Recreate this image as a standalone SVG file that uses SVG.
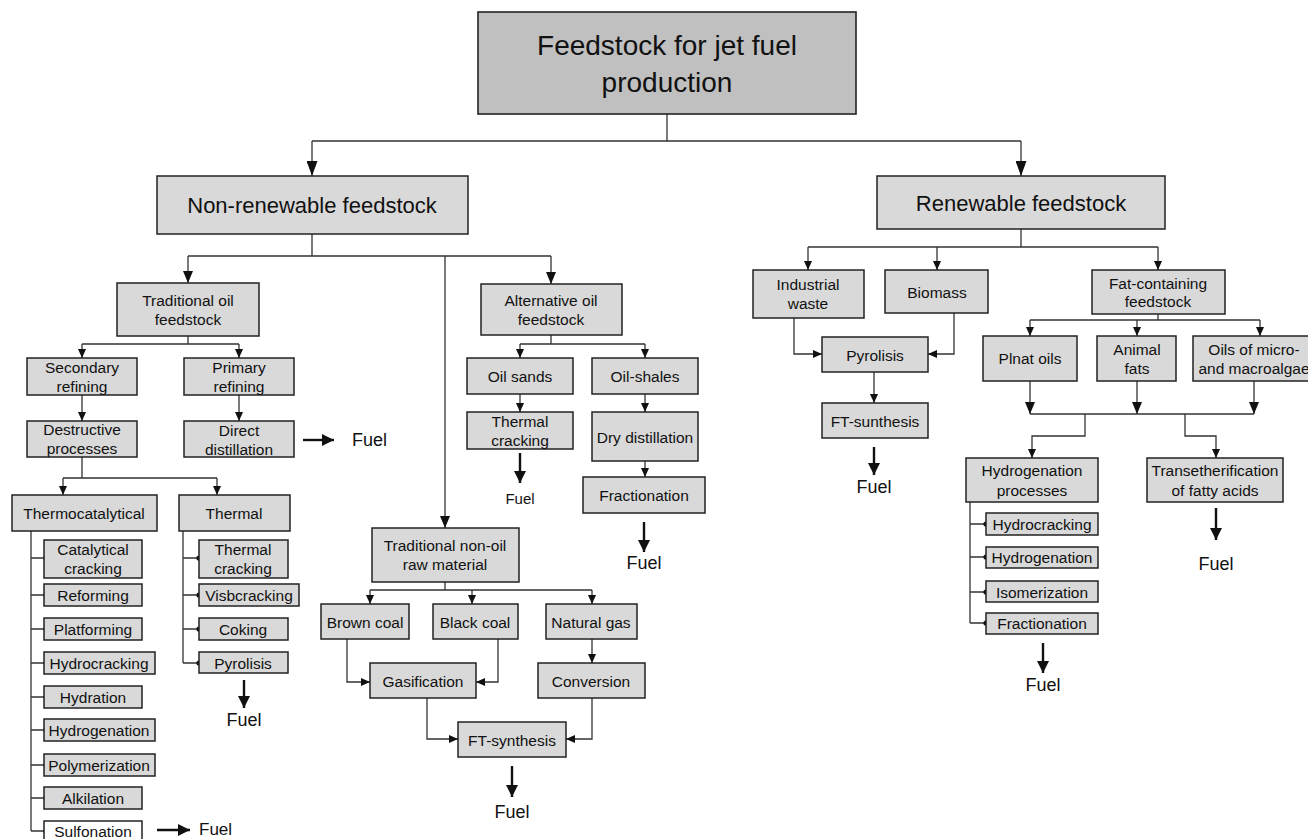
<svg xmlns="http://www.w3.org/2000/svg" width="1308" height="839" viewBox="0 0 1308 839">
  <style>
    .box { fill: #d9d9d9; stroke: #222; stroke-width: 1.5; }
    .root { fill: #c0c0c0; stroke: #222; stroke-width: 1.6; }
    .white { fill: #ffffff; stroke: #222; stroke-width: 1.5; }
    text { font-family: "Liberation Sans", Arial, sans-serif; fill: #111; text-anchor: middle; dominant-baseline: central; }
    .t28 { font-size: 28px; }
    .t22 { font-size: 22px; }
    .t15 { font-size: 15.5px; }
    .f18 { font-size: 18px; }
    .f17 { font-size: 17px; }
    .f15 { font-size: 15px; }
    .left { text-anchor: start; }
    .ln { fill: none; stroke: #333; stroke-width: 1.3; }
    .fuel { fill: none; stroke: #111; stroke-width: 2.4; }
    .dot { fill: #111; }
  </style>
  <defs>
    <marker id="big" markerUnits="userSpaceOnUse" markerWidth="15" markerHeight="11" refX="15" refY="5.5" orient="auto">
      <path d="M0 0 L15 5.5 L0 11 Z" fill="#111"/>
    </marker>
    <marker id="mid" markerUnits="userSpaceOnUse" markerWidth="12" markerHeight="10" refX="12" refY="5" orient="auto">
      <path d="M0 0 L12 5 L0 10 Z" fill="#111"/>
    </marker>
    <marker id="sm" markerUnits="userSpaceOnUse" markerWidth="9" markerHeight="8" refX="9" refY="4" orient="auto">
      <path d="M0 0 L9 4 L0 8 Z" fill="#111"/>
    </marker>
    <marker id="fa" markerUnits="userSpaceOnUse" markerWidth="12" markerHeight="12" refX="12" refY="6" orient="auto">
      <path d="M0 0 L12 6 L0 12 Z" fill="#111"/>
    </marker>
  </defs>

  <!-- connectors -->
  <g id="connectors">
    <path class="ln" d="M667 114 V141 M312 141 H1021"/>
    <path class="ln" d="M312 141 V176" marker-end="url(#big)"/>
    <path class="ln" d="M1021 141 V176" marker-end="url(#big)"/>

    <!-- non-renewable branch -->
    <path class="ln" d="M312 234 V256 M188 256 H551"/>
    <path class="ln" d="M188 256 V283" marker-end="url(#mid)"/>
    <path class="ln" d="M445 256 V528" marker-end="url(#mid)"/>
    <path class="ln" d="M551 256 V284" marker-end="url(#mid)"/>

    <path class="ln" d="M188 336 V344 M82 344 H239"/>
    <path class="ln" d="M82 344 V358" marker-end="url(#sm)"/>
    <path class="ln" d="M239 344 V358" marker-end="url(#sm)"/>
    <path class="ln" d="M82 395 V421" marker-end="url(#sm)"/>
    <path class="ln" d="M239 395 V421" marker-end="url(#sm)"/>
    <path class="ln" d="M82 457 V478 M63 478 H217"/>
    <path class="ln" d="M63 478 V495" marker-end="url(#sm)"/>
    <path class="ln" d="M217 478 V495" marker-end="url(#sm)"/>

    <path class="ln" d="M31 531 V831 M31 558 H46 M31 595 H46 M31 629 H46 M31 663 H46 M31 697 H46 M31 730 H46 M31 765 H46 M31 798 H46 M31 831 H46"/>
    <path class="ln" d="M183 531 V663 M183 558 H199 M183 595 H199 M183 629 H199 M183 663 H199"/>

    <path class="ln" d="M551 335 V344 M520 344 H645"/>
    <path class="ln" d="M520 344 V358" marker-end="url(#sm)"/>
    <path class="ln" d="M645 344 V358" marker-end="url(#sm)"/>
    <path class="ln" d="M520 394 V412" marker-end="url(#sm)"/>
    <path class="ln" d="M645 394 V412" marker-end="url(#sm)"/>
    <path class="ln" d="M645 461 V477" marker-end="url(#sm)"/>

    <path class="ln" d="M445 582 V590 M370 590 H592"/>
    <path class="ln" d="M370 590 V604" marker-end="url(#sm)"/>
    <path class="ln" d="M472 590 V604" marker-end="url(#sm)"/>
    <path class="ln" d="M592 590 V604" marker-end="url(#sm)"/>
    <path class="ln" d="M347 639 V682 H370" marker-end="url(#sm)"/>
    <path class="ln" d="M498 639 V682 H476" marker-end="url(#sm)"/>
    <path class="ln" d="M592 639 V663" marker-end="url(#sm)"/>
    <path class="ln" d="M427 698 V739 H458" marker-end="url(#sm)"/>
    <path class="ln" d="M592 698 V739 H566" marker-end="url(#sm)"/>

    <!-- renewable branch -->
    <path class="ln" d="M1021 229 V247 M808 247 H1158"/>
    <path class="ln" d="M808 247 V270" marker-end="url(#sm)"/>
    <path class="ln" d="M937 247 V270" marker-end="url(#sm)"/>
    <path class="ln" d="M1158 247 V270" marker-end="url(#sm)"/>
    <path class="ln" d="M794 318 V354 H822" marker-end="url(#sm)"/>
    <path class="ln" d="M954 313 V354 H928" marker-end="url(#sm)"/>
    <path class="ln" d="M874 372 V403" marker-end="url(#sm)"/>

    <path class="ln" d="M1158 314 V320 M1030 320 H1260"/>
    <path class="ln" d="M1030 320 V336" marker-end="url(#sm)"/>
    <path class="ln" d="M1137 320 V336" marker-end="url(#sm)"/>
    <path class="ln" d="M1260 320 V336" marker-end="url(#sm)"/>
    <path class="ln" d="M1030 414 H1254"/>
    <path class="ln" d="M1030 381 V414" marker-end="url(#mid)"/>
    <path class="ln" d="M1137 381 V414" marker-end="url(#mid)"/>
    <path class="ln" d="M1254 381 V414" marker-end="url(#mid)"/>
    <path class="ln" d="M1085 414 V436 H1032 V458" marker-end="url(#sm)"/>
    <path class="ln" d="M1185 414 V436 H1216 V458" marker-end="url(#sm)"/>
    <path class="ln" d="M970 502 V623 M970 524 H986 M970 557 H986 M970 592 H986 M970 623 H986"/>

    <!-- fuel outputs -->
    <path class="fuel" d="M303 440 H334" marker-end="url(#fa)"/>
    <path class="fuel" d="M157 830 H190" marker-end="url(#fa)"/>
    <path class="fuel" d="M244 680 V708" marker-end="url(#fa)"/>
    <path class="fuel" d="M520 453 V483" marker-end="url(#fa)"/>
    <path class="fuel" d="M644 522 V552" marker-end="url(#fa)"/>
    <path class="fuel" d="M512 766 V797" marker-end="url(#fa)"/>
    <path class="fuel" d="M874 447 V475" marker-end="url(#fa)"/>
    <path class="fuel" d="M1043 643 V673" marker-end="url(#fa)"/>
    <path class="fuel" d="M1216 508 V540" marker-end="url(#fa)"/>

    <!-- junction dots -->
    <g class="dot">
      <circle cx="46" cy="558" r="2.6"/><circle cx="46" cy="595" r="2.6"/><circle cx="46" cy="629" r="2.6"/>
      <circle cx="46" cy="663" r="2.6"/><circle cx="46" cy="697" r="2.6"/><circle cx="46" cy="730" r="2.6"/>
      <circle cx="46" cy="765" r="2.6"/><circle cx="46" cy="798" r="2.6"/><circle cx="46" cy="831" r="2.6"/>
      <circle cx="199" cy="558" r="2.6"/><circle cx="199" cy="595" r="2.6"/><circle cx="199" cy="629" r="2.6"/>
      <circle cx="199" cy="663" r="2.6"/>
      <circle cx="986" cy="524" r="2.6"/><circle cx="986" cy="557" r="2.6"/><circle cx="986" cy="592" r="2.6"/>
      <circle cx="986" cy="623" r="2.6"/>
    </g>
  </g>

  <!-- fuel labels -->
  <g id="fuel-labels">
    <text class="f18 left" x="352" y="440">Fuel</text>
    <text class="f17 left" x="199" y="829">Fuel</text>
    <text class="f18" x="244" y="720">Fuel</text>
    <text class="f15" x="520" y="498">Fuel</text>
    <text class="f18" x="644" y="563">Fuel</text>
    <text class="f18" x="512" y="812">Fuel</text>
    <text class="f18" x="874" y="487">Fuel</text>
    <text class="f18" x="1043" y="685">Fuel</text>
    <text class="f18" x="1216" y="564">Fuel</text>
  </g>

  <!-- root and main categories -->
  <g id="root"><rect class="root" x="478" y="12" width="378" height="102"/>
    <text class="t28" x="667" y="45">Feedstock for jet fuel</text><text class="t28" x="667" y="82">production</text></g>
  <g id="non-renewable"><rect class="box" x="157" y="176" width="311" height="58"/>
    <text class="t22" x="312" y="205">Non-renewable feedstock</text></g>
  <g id="renewable"><rect class="box" x="877" y="176" width="288" height="53"/>
    <text class="t22" x="1021" y="203">Renewable feedstock</text></g>

  <!-- traditional oil -->
  <g id="traditional-oil"><rect class="box" x="117" y="283" width="142" height="53"/>
    <text class="t15" x="188" y="300">Traditional oil</text><text class="t15" x="188" y="319">feedstock</text></g>
  <g id="secondary-refining"><rect class="box" x="27" y="358" width="110" height="37"/>
    <text class="t15" x="82" y="367">Secondary</text><text class="t15" x="82" y="386">refining</text></g>
  <g id="primary-refining"><rect class="box" x="184" y="358" width="110" height="37"/>
    <text class="t15" x="239" y="367">Primary</text><text class="t15" x="239" y="386">refining</text></g>
  <g id="destructive"><rect class="box" x="27" y="421" width="110" height="36"/>
    <text class="t15" x="82" y="429">Destructive</text><text class="t15" x="82" y="448">processes</text></g>
  <g id="direct-distillation"><rect class="box" x="184" y="421" width="110" height="36"/>
    <text class="t15" x="239" y="430">Direct</text><text class="t15" x="239" y="449">distillation</text></g>
  <g id="thermocatalytical"><rect class="box" x="12" y="495" width="145" height="36"/>
    <text class="t15" x="84" y="513">Thermocatalytical</text></g>
  <g id="thermal"><rect class="box" x="179" y="495" width="111" height="36"/>
    <text class="t15" x="234" y="513">Thermal</text></g>

  <g id="catalytical-cracking"><rect class="box" x="44" y="540" width="98" height="38"/>
    <text class="t15" x="93" y="549">Catalytical</text><text class="t15" x="93" y="568">cracking</text></g>
  <g id="reforming"><rect class="box" x="44" y="584" width="98" height="22"/><text class="t15" x="93" y="595">Reforming</text></g>
  <g id="platforming"><rect class="box" x="44" y="618" width="98" height="22"/><text class="t15" x="93" y="629">Platforming</text></g>
  <g id="hydrocracking-1"><rect class="box" x="44" y="652" width="111" height="22"/><text class="t15" x="99" y="663">Hydrocracking</text></g>
  <g id="hydration"><rect class="box" x="44" y="686" width="98" height="22"/><text class="t15" x="93" y="697">Hydration</text></g>
  <g id="hydrogenation-1"><rect class="box" x="44" y="719" width="111" height="22"/><text class="t15" x="99" y="730">Hydrogenation</text></g>
  <g id="polymerization"><rect class="box" x="44" y="754" width="111" height="22"/><text class="t15" x="99" y="765">Polymerization</text></g>
  <g id="alkilation"><rect class="box" x="44" y="787" width="98" height="22"/><text class="t15" x="93" y="798">Alkilation</text></g>
  <g id="sulfonation"><rect class="white" x="44" y="821" width="98" height="24"/><text class="t15" x="93" y="831">Sulfonation</text></g>

  <g id="thermal-cracking"><rect class="box" x="199" y="540" width="89" height="38"/>
    <text class="t15" x="243" y="549">Thermal</text><text class="t15" x="243" y="568">cracking</text></g>
  <g id="visbcracking"><rect class="box" x="199" y="584" width="100" height="22"/><text class="t15" x="249" y="595">Visbcracking</text></g>
  <g id="coking"><rect class="box" x="199" y="618" width="89" height="22"/><text class="t15" x="243" y="629">Coking</text></g>
  <g id="pyrolisis-1"><rect class="box" x="199" y="652" width="89" height="21"/><text class="t15" x="243" y="663">Pyrolisis</text></g>

  <!-- alternative oil -->
  <g id="alternative-oil"><rect class="box" x="481" y="284" width="141" height="51"/>
    <text class="t15" x="551" y="300">Alternative oil</text><text class="t15" x="551" y="319">feedstock</text></g>
  <g id="oil-sands"><rect class="box" x="467" y="358" width="106" height="36"/><text class="t15" x="520" y="376">Oil sands</text></g>
  <g id="oil-shales"><rect class="box" x="592" y="358" width="106" height="36"/><text class="t15" x="645" y="376">Oil-shales</text></g>
  <g id="thermal-cracking-2"><rect class="box" x="467" y="412" width="106" height="37"/>
    <text class="t15" x="520" y="421">Thermal</text><text class="t15" x="520" y="440">cracking</text></g>
  <g id="dry-distillation"><rect class="box" x="592" y="412" width="106" height="49"/><text class="t15" x="645" y="437">Dry distillation</text></g>
  <g id="fractionation-1"><rect class="box" x="583" y="477" width="122" height="36"/><text class="t15" x="644" y="495">Fractionation</text></g>

  <!-- traditional non-oil -->
  <g id="non-oil"><rect class="box" x="372" y="528" width="147" height="54"/>
    <text class="t15" x="445" y="545">Traditional non-oil</text><text class="t15" x="445" y="564">raw material</text></g>
  <g id="brown-coal"><rect class="box" x="321" y="604" width="88" height="35"/><text class="t15" x="365" y="622">Brown coal</text></g>
  <g id="black-coal"><rect class="box" x="433" y="604" width="85" height="35"/><text class="t15" x="475" y="622">Black coal</text></g>
  <g id="natural-gas"><rect class="box" x="546" y="604" width="91" height="35"/><text class="t15" x="591" y="622">Natural gas</text></g>
  <g id="gasification"><rect class="box" x="370" y="663" width="106" height="35"/><text class="t15" x="423" y="681">Gasification</text></g>
  <g id="conversion"><rect class="box" x="538" y="663" width="107" height="35"/><text class="t15" x="591" y="681">Conversion</text></g>
  <g id="ft-synthesis"><rect class="box" x="458" y="722" width="108" height="35"/><text class="t15" x="512" y="740">FT-synthesis</text></g>

  <!-- renewable side -->
  <g id="industrial-waste"><rect class="box" x="753" y="270" width="111" height="48"/>
    <text class="t15" x="808" y="284">Industrial</text><text class="t15" x="808" y="303">waste</text></g>
  <g id="biomass"><rect class="box" x="885" y="270" width="103" height="43"/><text class="t15" x="937" y="292">Biomass</text></g>
  <g id="pyrolisis-2"><rect class="box" x="822" y="337" width="106" height="35"/><text class="t15" x="875" y="355">Pyrolisis</text></g>
  <g id="ft-sunthesis"><rect class="box" x="822" y="403" width="106" height="35"/><text class="t15" x="875" y="421">FT-sunthesis</text></g>

  <g id="fat-containing"><rect class="box" x="1092" y="270" width="133" height="44"/>
    <text class="t15" x="1158" y="283">Fat-containing</text><text class="t15" x="1158" y="301">feedstock</text></g>
  <g id="plant-oils"><rect class="box" x="983" y="336" width="94" height="45"/><text class="t15" x="1030" y="358">Plnat oils</text></g>
  <g id="animal-fats"><rect class="box" x="1097" y="336" width="79" height="45"/>
    <text class="t15" x="1137" y="349">Animal</text><text class="t15" x="1137" y="368">fats</text></g>
  <g id="algae-oils"><rect class="box" x="1193" y="336" width="118" height="45"/>
    <text class="t15" x="1254" y="349">Oils of micro-</text><text class="t15" x="1254" y="368">and macroalgae</text></g>
  <g id="hydrogenation-processes"><rect class="box" x="966" y="458" width="132" height="44"/>
    <text class="t15" x="1032" y="470">Hydrogenation</text><text class="t15" x="1032" y="490">processes</text></g>
  <g id="transetherification"><rect class="box" x="1147" y="458" width="136" height="44"/>
    <text class="t15" x="1215" y="470">Transetherification</text><text class="t15" x="1215" y="490">of fatty acids</text></g>
  <g id="hydrocracking-2"><rect class="box" x="986" y="513" width="112" height="22"/><text class="t15" x="1042" y="524">Hydrocracking</text></g>
  <g id="hydrogenation-2"><rect class="box" x="986" y="547" width="112" height="21"/><text class="t15" x="1042" y="557">Hydrogenation</text></g>
  <g id="isomerization"><rect class="box" x="986" y="581" width="112" height="21"/><text class="t15" x="1042" y="592">Isomerization</text></g>
  <g id="fractionation-2"><rect class="box" x="986" y="613" width="112" height="21"/><text class="t15" x="1042" y="623">Fractionation</text></g>
</svg>
